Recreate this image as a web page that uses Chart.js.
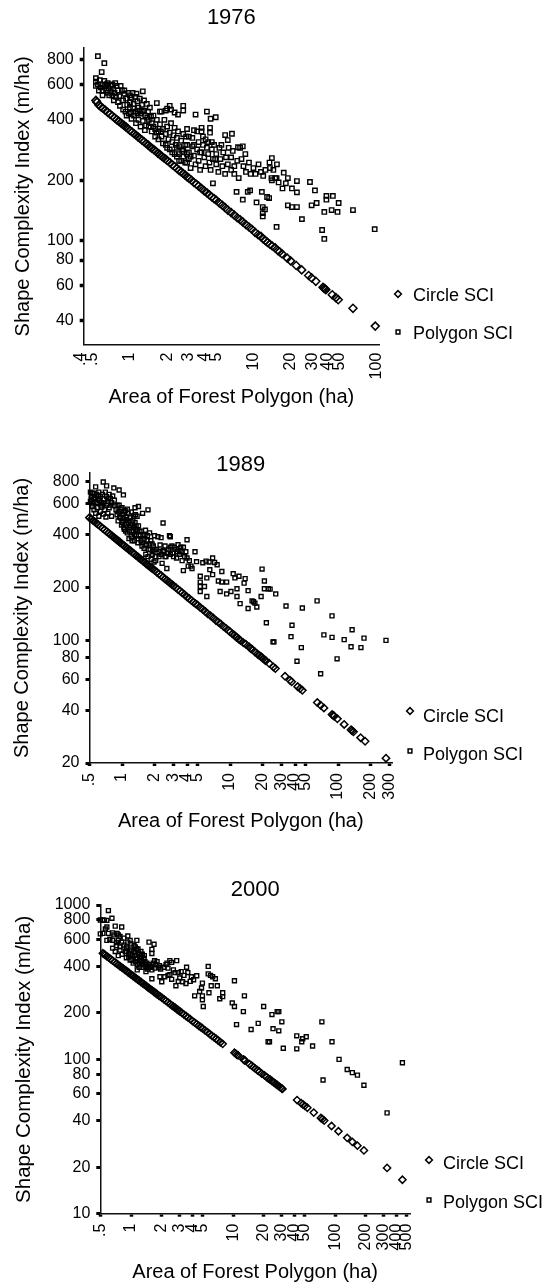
<!DOCTYPE html>
<html><head><meta charset="utf-8">
<style>html,body{margin:0;padding:0;background:#fff}canvas{display:block}</style>
<script src="https://cdn.jsdelivr.net/npm/chart.js@4/dist/chart.umd.js"></script>
</head><body>
<canvas id="c1976" width="560" height="430"></canvas>
<canvas id="c1989" width="560" height="420"></canvas>
<canvas id="c2000" width="560" height="438"></canvas>
<script>
const xTicks1976=[.4,.5,1,2,3,4,5,10,20,30,40,50,100];
const yTicks1976=[40,60,80,100,200,400,600,800];
const xTicks1989=[.5,1,2,3,4,5,10,20,30,40,50,100,200,300];
const yTicks1989=[20,40,60,80,100,200,400,600,800];
const xTicks2000=[.5,1,2,3,4,5,10,20,30,40,50,100,200,300,400,500];
const yTicks2000=[10,20,40,60,80,100,200,400,600,800,1000];

const circleBand=[[.56,474],[.58,465],[.6,458],[.63,447],[.66,436],[.69,427],[.72,418],[.75,409],[.78,401],[.81,394],[.84,387],[.87,380],[.9,374],[.93,368],[.96,362],[1,354],[1.04,348],[1.08,341],[1.12,335],[1.16,329],[1.2,324],[1.25,317],[1.3,311],[1.35,305],[1.4,300],[1.45,294],[1.5,289],[1.56,284],[1.62,279],[1.68,273],[1.74,269],[1.8,264],[1.87,259],[1.94,255],[2,251],[2.1,245],[2.2,239],[2.3,234],[2.4,229],[2.5,224],[2.6,220],[2.7,216],[2.8,212],[2.9,208],[3,205],[3.15,200],[3.3,195],[3.45,191],[3.6,187],[3.8,182],[4,177],[4.2,173],[4.4,169],[4.6,165],[4.8,162],[5,159]];
const circleMid=[[5.3,154],[5.6,150],[5.9,146],[6.2,142],[6.6,138],[7,134],[7.4,130],[7.8,127],[8.2,124],[8.7,120],[9.2,117],[9.7,114]];

const circle1976=[[.53,500],[.54,490],...circleBand,...circleMid,[10.3,110],[10.9,107],[11.5,105],[12,102],[12.5,100],[13,98],[13.6,96],[14.2,94],[15,92],[15.8,89],[16.3,88],[17,86],[18.8,81.8],[20,79.3],[22.2,75.2],[24.6,71.5],[28,67],[29.6,65.2],[32,62.7],[36.6,58.6],[37.2,58],[37.9,57.6],[38.6,57],[43.5,53.7],[46.5,52],[48.6,50.8],[64,46],[97,37.5]];
const circle1989=[[.5,501],[.52,492],[.54,482],...circleBand,...circleMid,[10,112],[10.5,109],[11,107],[11.3,105],[11.6,104],[12,102],[12.5,100],[13.3,97],[14,95],[15,92],[15.5,90],[16,89],[17,86],[18,83.5],[18.7,82],[19.3,81],[19.8,80],[20.3,78.7],[21,77.4],[21.5,76.5],[23,74],[25.2,70.6],[26.3,69.1],[32.3,62.4],[35.9,59.2],[37.2,58.1],[42.3,54.5],[44.5,53.1],[46.7,51.9],[64.3,44.2],[69,42.7],[74,41.2],[88,37.8],[90,37.4],[92,37],[98.6,35.7],[114,33.2],[132,30.9],[135,30.5],[139,30.1],[162,27.9],[178,26.6],[278,21.3]];
const circle2000=[[.53,487],[.545,480],...circleBand,[5.3,154],[5.6,150],[5.9,146],[6.2,142],[6.5,139],[6.8,136],[7.1,133],[7.5,129],[7.9,126],[10.3,110.5],[10.6,109],[10.9,107],[11.2,106],[12.6,100],[12.9,98.7],[13.1,98],[14.5,93],[15.2,91],[15.8,89],[16.5,87],[17.3,85],[18,83.5],[19,81],[20.3,78.7],[21.3,76.8],[22.2,75],[23,74],[24,72.4],[25,70.9],[26,69.5],[27,68.2],[28,67],[29,65.8],[30,64.7],[30.4,64.3],[42.3,54.5],[46.4,52],[48.3,51],[50.4,50],[53.3,48.6],[61.6,45.2],[72.3,41.7],[75,41],[78,40.1],[92,37],[107.5,34.2],[131,31],[147,29.2],[165,27.6],[191,25.7],[322,19.8],[455,16.6]];

const poly1976=[[.55,830],[.62,766],[.59,692],[.53,645],[.53,620],[.53,590],[.55,600],[.57,630],[.58,580],[.6,600],[.6,560],[.62,625],[.63,590],[.64,560],[.65,600],[.66,545],[.67,575],[.68,530],[.7,590],[.7,555],[.72,530],[.73,570],[.75,545],[.76,610],[.77,520],[.78,590],[.8,560],[.82,525],[.84,590],[.88,500],[.9,540],[.9,560],[.93,510],[.95,475],[.97,545],[1,530],[1,490],[1,460],[1.03,515],[1.05,545],[1.07,480],[1.1,520],[1.1,440],[1.13,540],[1.15,495],[1.17,460],[1.2,510],[1.22,430],[1.25,475],[1.27,555],[1.3,500],[1.3,445],[1.33,420],[1.37,480],[1.4,440],[1.42,400],[1.45,460],[1.48,415],[.98,430],[1.03,405],[1.08,420],[1.12,385],[1.17,400],[1.22,370],[1.27,395],[1.32,355],[1.2,445],[1.35,375],[1.65,485],[1.8,440],[1.95,445],[2,455],[2.15,450],[2.3,435],[2.45,425],[2.7,470],[2.7,445],[3.4,425],[4.2,440],[4.5,405],[4.95,412],[1.5,385],[1.55,420],[1.6,360],[1.65,400],[1.7,350],[1.75,380],[1.8,330],[1.85,360],[1.9,400],[1.95,340],[2,370],[2.05,320],[2.1,345],[2.15,385],[2.2,310],[2.25,335],[2.3,365],[2.35,300],[2.4,325],[2.45,350],[2.5,295],[2.6,315],[2.65,280],[2.7,340],[2.8,300],[2.85,330],[2.9,270],[2.9,360],[3,330],[3.2,325],[3.3,355],[3.5,350],[3.8,350],[3.9,330],[4.1,320],[4.3,310],[5.9,336],[6.7,341],[6.2,317],[2.4,290],[2.5,270],[2.6,250],[2.7,285],[2.8,245],[2.9,300],[3,275],[3,255],[3.1,230],[3.2,295],[3.3,265],[3.4,240],[3.5,285],[3.6,250],[3.7,225],[3.8,275],[3.9,300],[4,260],[4.1,235],[4.2,290],[4.3,270],[4.4,245],[4.5,225],[4.6,285],[4.7,255],[4.8,300],[5,270],[5,240],[5.2,220],[5.3,290],[5.4,255],[5.6,235],[5.7,275],[5.9,215],[6,260],[6.2,240],[6.3,290],[6.6,225],[6.6,260],[6.8,280],[7,235],[7,215],[7.4,250],[7.6,205],[7.8,290],[8.2,295],[8,255],[8.3,235],[8.6,270],[8.7,220],[9.2,245],[9.5,215],[10,230],[10.4,215],[11,240],[11.5,220],[12,210],[12.5,225],[13.5,245],[14,205],[14.5,225],[15,205],[15.5,240],[16,195],[7.5,292],[3.8,365],[4.45,365],[4.45,345],[14.1,258],[13.6,230],[15.4,205],[14.1,200],[7.3,175],[8.2,160],[9.4,178],[9,175],[10.6,155],[11.7,175],[12.9,165],[13.4,163],[11.9,147],[4.7,193],[11.9,137],[11.9,132],[12.4,143],[15.4,117],[17.6,218],[19,205],[18.3,193],[17.2,182],[20.5,182],[22.5,198],[22.5,174],[19,150],[20.5,147],[22.5,147],[24.7,128],[28.7,196],[31.5,178],[29.6,150],[32.5,154],[36,113],[37.5,102],[37.5,139],[39,167],[39,160],[44,167],[49,154],[43,142],[48,139],[64,142],[96,114],
[.56,560],[.6,530],[.66,610],[.72,600],[.74,500],[.8,490],[.83,470],[.86,560],[.88,450],[.92,440],[.94,420],[1.06,455],[1.02,435],[1.15,430],[1.25,440],[1.38,410],[1.42,370],[1.5,350],[1.55,370],[1.6,330],[1.65,345],[1.7,320],[1.78,350],[1.85,305],[1.95,300],[2,290],[2.1,285],[2.2,275],[2.3,270],[2.4,262],[2.5,250],[2.7,262],[2.9,245],[3.1,262],[3.3,300],[3.6,310],[3.7,275],[4.6,310],[4.9,255],[5.5,300],[1.75,440],[2.1,470]];

const poly1989=[[.57,750],[.67,800],[.72,760],[.84,740],[.94,720],[1.03,675],[.51,700],[.52,660],[.51,620],[.53,600],[.55,690],[.56,650],[.58,680],[.6,640],[.61,700],[.63,660],[.65,610],[.66,680],[.68,640],[.7,700],[.72,660],[.74,620],[.76,680],[.78,645],[.8,610],[.82,665],[.85,630],[.53,580],[.55,555],[.57,530],[.59,570],[.61,510],[.63,545],[.65,575],[.67,525],[.69,555],[.71,505],[.74,530],[.76,570],[.8,510],[.86,585],[.88,555],[.9,520],[.92,480],[.94,590],[.96,545],[.97,500],[.99,455],[1,570],[1.02,525],[1.04,480],[1.05,430],[1.07,550],[1.09,505],[1.1,460],[1.12,410],[1.14,530],[1.16,480],[1.18,440],[1.2,500],[1.22,390],[1.24,460],[1.26,420],[1.28,510],[1.3,370],[1.32,470],[1.34,430],[1.36,395],[1.38,510],[1.4,360],[1.42,450],[1.32,570],[1.42,580],[1.55,530],[1.74,555],[2.4,467],[2.8,390],[2.75,395],[1.5,420],[1.56,400],[1.6,375],[1.65,425],[1.68,350],[1.72,395],[1.76,330],[1.8,410],[1.85,370],[1.9,310],[1.95,345],[2,395],[2.05,285],[2.1,330],[2.15,390],[2.2,300],[2.25,350],[2.3,385],[2.35,275],[2.4,325],[2.5,345],[2.55,300],[2.6,257],[2.7,330],[2.8,310],[2.9,345],[3,300],[3.1,330],[3.2,295],[3.3,351],[3.4,310],[3.5,340],[3.6,285],[3.7,250],[3.7,340],[3.8,300],[4,375],[4,295],[4.2,285],[4.45,257],[4.35,265],[4.74,320],[4.9,281],[5.6,277],[6,283],[6.9,295],[6.4,280],[7.6,270],[7.2,278],[6.5,253],[6.9,237],[8.4,247],[5.3,232],[6.1,227],[7.8,218],[8.4,215],[9.3,215],[5.3,215],[5.3,203],[5.3,190],[5.8,203],[6.1,178],[8.1,190],[9.3,184],[10.2,190],[10.7,240],[11.1,227],[12.1,232],[11.6,197],[11.6,178],[13.5,212],[13.8,225],[14.7,192],[12.4,162],[14.7,152],[16,168],[16.5,166],[17,163],[17.7,155],[19.4,178],[19.8,255],[20.8,218],[20.8,197],[22.6,197],[26.5,184],[21.7,126],[25.5,98],[23.5,196],[33,157],[46.7,153],[64,168],[88,138],[37.5,122],[36.7,105],[25,98],[45.7,91],[41.7,76],[69,64.5],[74,107.5],[88,104],[98,78.5],[114,101],[135,115],[132,92],[163,91],[174,103],[278,100],
[.9,590],[.92,540],[.95,505],[.98,560],[1,470],[1.02,500],[1.04,440],[1.06,540],[1.08,420],[1.1,490],[1.12,560],[1.14,470],[1.16,380],[1.18,420],[1.2,450],[1.22,540],[1.24,370],[1.26,480],[1.28,440],[1.3,400],[1.33,520],[1.35,450],[1.38,420],[1.41,380],[1.44,420],[1.47,395],[1.5,370],[1.53,345],[1.56,360],[1.6,335],[1.63,400],[1.66,310],[1.7,370],[1.74,300],[1.78,355],[1.82,330],[1.86,290],[1.9,355],[1.94,320],[1.98,280],[2.02,330],[2.06,300],[2.2,320],[2.3,310],[2.45,320],[2.5,300],[2.65,315],[2.8,340],[2.95,315],[3.05,340],[3.25,320],[3.45,325],[3.6,320],[3.9,320],[4.1,265],[.55,620],[.58,610],[.6,670],[.62,625],[.64,590],[.68,600],[.72,590],[.75,640],[.78,590],[.55,635],[.52,640],[.53,690]];

const poly2000=[[.6,920],[.65,820],[.5,800],[.53,800],[.55,795],[.58,795],[.58,720],[.7,730],[.81,720],[.53,655],[.5,650],[.6,655],[.66,660],[.73,655],[.78,625],[.93,630],[.98,590],[1.14,590],[.58,590],[.66,590],[.72,570],[.81,575],[.93,575],[.66,525],[.78,535],[.9,535],[1.1,535],[1.5,575],[1.68,557],[1.6,516],[1.6,485],[.7,500],[.72,545],[.75,470],[.78,510],[.82,480],[.85,550],[.88,500],[.9,455],[.93,520],[.95,480],[.98,440],[1,560],[1,510],[1.03,470],[1.05,420],[1.07,545],[1.1,495],[1.12,450],[1.15,410],[1.17,520],[1.2,480],[1.22,440],[1.25,500],[1.27,460],[1.3,420],[1.32,395],[1.35,470],[1.37,430],[1.2,395],[1.15,380],[1.4,400],[1.45,385],[1.5,410],[1.55,395],[1.8,430],[1.7,435],[2.4,436],[2.8,436],[2.5,425],[2.2,411],[2.1,395],[1.85,395],[1.75,410],[2.25,420],[1.53,395],[1.6,380],[1.4,370],[1.9,405],[1.6,333],[1.92,343],[2.14,343],[2,318],[2.4,354],[2.7,365],[3.1,370],[3.5,395],[3.6,365],[3.9,343],[4.4,348],[3,337],[3.2,318],[3.45,310],[4.1,328],[2.75,300],[5,312],[4.9,290],[4.7,275],[4.2,258],[5,258],[5,243],[5.1,220],[5.7,400],[5.7,358],[6,350],[6.3,343],[6.7,333],[6.1,300],[7,300],[5.8,270],[7.9,270],[7.9,255],[7.4,247],[10.3,323],[9.8,232],[10.3,220],[12.9,258],[12.6,204],[10.8,168],[15,156],[17.6,171],[19.9,220],[24,195],[27,204],[22,130],[24.6,158],[28,153],[28,204],[30,175],[22.7,130],[31,118],[42,142],[52,140],[48,136],[47,130],[42,117],[60,122],[74,175],[93,130],[109,100],[131,86],[147,82],[165,79],[191,68],[76,73.5],[322,45],[455,95],
[.9,500],[.95,460],[1,480],[1.02,440],[1.05,500],[1.08,470],[1.1,430],[1.13,520],[1.15,450],[1.18,490],[1.2,420],[1.23,460],[1.26,430],[1.29,480],[1.31,410],[1.34,450],[1.38,410],[1.43,420],[1.47,395],[1.58,400],[1.65,420],[1.72,390],[1.95,385],[2.3,390],[2.6,380],[2.9,365],[3.3,350],[3.8,320],[2.5,330],[2.3,350],[2.9,320],[.75,590],[.62,600],[.85,610],[.68,640],[.56,700],[.75,640]];

const legendPlugin={id:'panelLegend',afterDraw(chart,_a,o){
  const ctx=chart.ctx;ctx.save();
  ctx.fillStyle='#000';ctx.font='18px "Liberation Sans"';ctx.textBaseline='middle';ctx.textAlign='left';
  chart.data.datasets.forEach((ds,i)=>{
    const row=o.rows[i];
    ctx.lineWidth=1.5;ctx.strokeStyle='#000';ctx.beginPath();
    if(i===0){ctx.moveTo(row.mx-3.4,row.my);ctx.lineTo(row.mx,row.my-3.4);ctx.lineTo(row.mx+3.4,row.my);ctx.lineTo(row.mx,row.my+3.4);ctx.closePath();}
    else{ctx.rect(row.mx-1.9,row.my-1.9,3.8,3.8);}
    ctx.stroke();
    ctx.fillText(ds.label,row.tx,row.ty);
  });
  ctx.restore();
}};

function panel(cfg){
  const h=cfg.height;
  const fmt=v=>v<1?String(v).replace(/^0/,''):String(v);
  new Chart(document.getElementById(cfg.id),{
    type:'scatter',
    data:{datasets:[
      {label:'Circle SCI',data:cfg.circle.map(p=>({x:p[0],y:p[1]})),pointStyle:'rectRot',pointRadius:cfg.dr,pointBorderWidth:1.5,pointBorderColor:'#000',pointBackgroundColor:'rgba(255,255,255,0)',clip:false},
      {label:'Polygon SCI',data:cfg.poly.map(p=>({x:p[0],y:p[1]})),pointStyle:'rect',pointRadius:cfg.sr,pointBorderWidth:1.4,pointBorderColor:'#000',pointBackgroundColor:'rgba(255,255,255,0)',clip:false}
    ]},
    options:{
      responsive:false,animation:false,devicePixelRatio:1,
      layout:{padding:{top:cfg.titlePad,right:560-cfg.right,bottom:0,left:0}},
      plugins:{
        legend:{display:false},tooltip:{enabled:false},
        title:{display:true,text:cfg.title,position:'top',fullSize:false,color:'#000',font:{family:'"Liberation Sans"',size:22,weight:'normal',lineHeight:.5},padding:{top:0,bottom:cfg.titleGap}},
        panelLegend:{rows:cfg.legend}
      },
      scales:{
        x:{type:'logarithmic',min:cfg.xMin,max:cfg.xMax,
          afterBuildTicks:s=>{s.ticks=cfg.xTicks.map(value=>({value}));},
          afterFit:s=>{s.height=h-cfg.bottom;s.paddingLeft=0;s.paddingRight=0;},
          border:{color:'#111',width:1.5},
          grid:{drawOnChartArea:false,drawTicks:true,tickLength:cfg.xTickLen,tickWidth:3.5,tickColor:cfg.xTickLen?'#000':'rgba(0,0,0,0)'},
          ticks:{autoSkip:false,minRotation:90,maxRotation:90,padding:cfg.xPad,color:'#000',font:{family:'"Liberation Sans"',size:16},callback:fmt},
          title:{display:true,text:'Area of Forest Polygon (ha)',color:'#000',font:{family:'"Liberation Sans"',size:20,lineHeight:1.2},padding:{top:0,bottom:cfg.xTitlePad}}
        },
        y:{type:'logarithmic',min:cfg.yMin,max:cfg.yMax,
          afterBuildTicks:s=>{s.ticks=cfg.yTicks.map(value=>({value}));},
          afterFit:s=>{s.width=cfg.left;},
          border:{color:'#111',width:1.5},
          grid:{drawOnChartArea:false,drawTicks:true,tickLength:4,tickWidth:cfg.yTickW,tickColor:'#000'},
          ticks:{autoSkip:false,padding:6,color:'#000',font:{family:'"Liberation Sans"',size:16},callback:fmt},
          title:{display:true,text:'Shape Complexity Index (m/ha)',color:'#000',font:{family:'"Liberation Sans"',size:cfg.yTitleSize,lineHeight:1.2},padding:{top:cfg.yTitlePad,bottom:0}}
        }
      }
    },
    plugins:[legendPlugin]
  });
}

panel({id:'c1976',title:'1976',height:430,left:83.7,right:379,bottom:344.7,titlePad:12.5,titleGap:24.5,
  xMin:.422,xMax:104,yMin:30.3,yMax:912,xTicks:xTicks1976,yTicks:yTicks1976,circle:circle1976,poly:poly1976,
  dr:4,sr:3.1,xTickLen:0,xPad:8,xTitlePad:21,yTickW:3.5,yTitlePad:11,yTitleSize:20,
  legend:[{mx:398,my:294,tx:413,ty:296},{mx:398,my:332,tx:413,ty:334}]});
panel({id:'c1989',title:'1989',height:420,left:89.5,right:392,bottom:333,titlePad:29,titleGap:3,
  xMin:.5,xMax:316,yMin:20,yMax:900,xTicks:xTicks1989,yTicks:yTicks1989,circle:circle1989,poly:poly1989,
  dr:3.7,sr:2.8,xTickLen:3,xPad:7,xTitlePad:17,yTickW:3,yTitlePad:10.5,yTitleSize:20,
  legend:[{mx:410,my:281,tx:423,ty:287},{mx:410,my:321,tx:423,ty:325}]});
panel({id:'c2000',title:'2000',height:438,left:100.3,right:410,bottom:363.7,titlePad:34,titleGap:10,
  xMin:.5,xMax:540,yMin:10,yMax:1000,xTicks:xTicks2000,yTicks:yTicks2000,circle:circle2000,poly:poly2000,
  dr:3.6,sr:2.8,xTickLen:3,xPad:7,xTitlePad:4,yTickW:3,yTitlePad:12,yTitleSize:20.5,
  legend:[{mx:429,my:310,tx:443,ty:314},{mx:429,my:350,tx:443,ty:353}]});
</script>
</body></html>
